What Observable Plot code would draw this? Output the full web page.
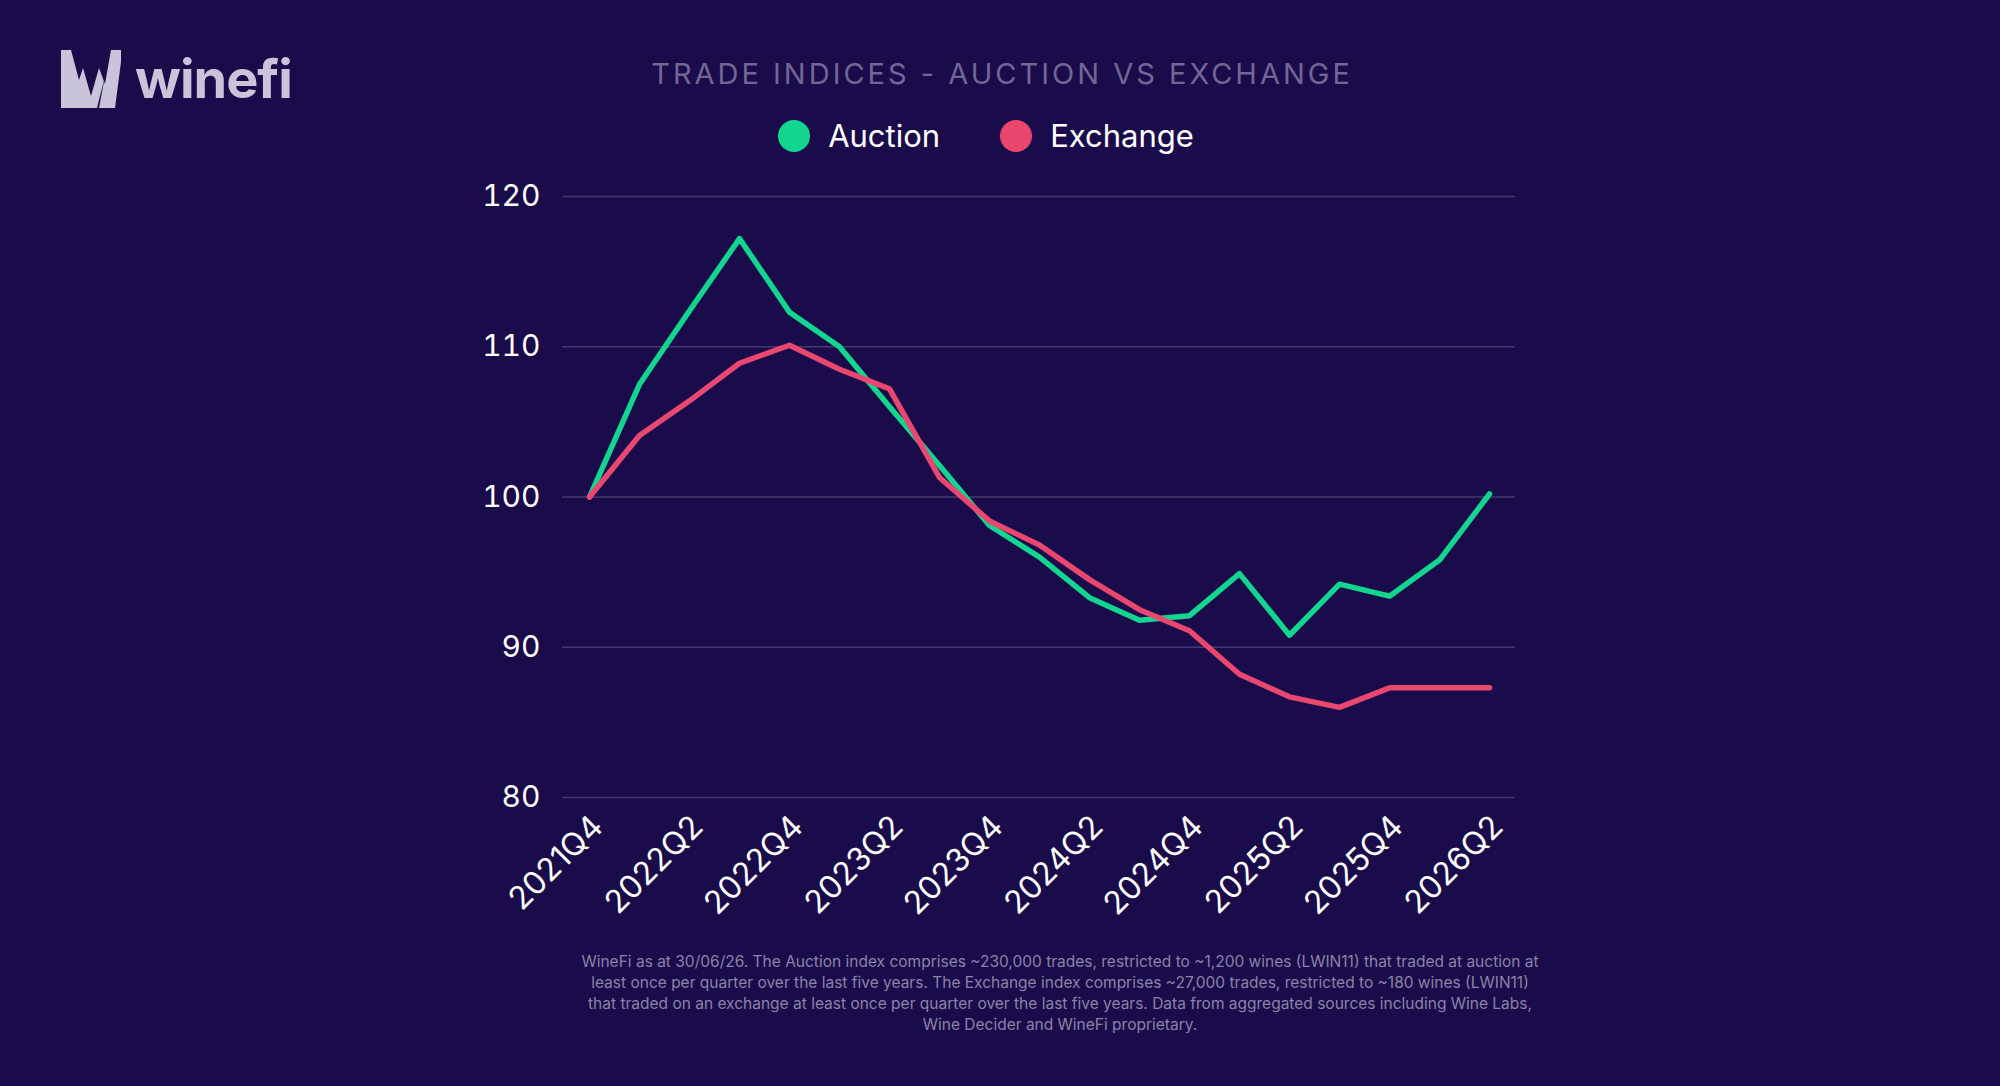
<!DOCTYPE html>
<html><head><meta charset="utf-8">
<script src="https://cdn.jsdelivr.net/npm/d3@7"></script>
<script src="https://cdn.jsdelivr.net/npm/@observablehq/plot@0.6"></script>
<style>
html,body{margin:0;padding:0;background:#1a0c4a;width:2000px;height:1086px;overflow:hidden;font-family:Inter,"Noto Sans",sans-serif;}
#wrap{position:relative;width:2000px;height:1086px;}
.abs{position:absolute;}
#title{left:0;width:2004px;top:56px;text-align:center;color:#716694;font-size:29px;letter-spacing:3px;}
#legend{top:117px;left:-14px;width:2000px;display:flex;justify-content:center;gap:60px;color:#fff;font-size:31px;}
#legend span{display:flex;align-items:center;gap:18px}
#legend i{display:inline-block;width:32px;height:32px;border-radius:50%}
#note{top:951px;left:460px;width:1200px;text-align:center;color:#8b83a8;font-size:15.5px;line-height:21px;white-space:nowrap;}
#logo{left:61px;top:46px;display:flex;align-items:center;gap:14px;color:#c9c4da;font-weight:700;font-size:54px;letter-spacing:-1px}
#chart{left:0;top:0;}
</style></head><body>
<div id="wrap">
<div id="chart" class="abs"></div>
<div id="logo" class="abs"><svg width="60" height="58" viewBox="0 0 60 58"><path d="M0 0H60V12L54 58H38L44 26L36 58H20L12 30L20 58H0Z" fill="#c9c4da"/><path d="M10 0H50L44 34L38 18L30 46L22 18L18 30Z" fill="#1a0c4a"/></svg><span>winefi</span></div>
<div id="title" class="abs">TRADE INDICES - AUCTION VS EXCHANGE</div>
<div id="legend" class="abs"><span><i style="background:#12d58f"></i>Auction</span><span><i style="background:#e9476f"></i>Exchange</span></div>
<div id="note" class="abs">WineFi as at 30/06/26. The Auction index comprises ~230,000 trades, restricted to ~1,200 wines (LWIN11) that traded at auction at<br>least once per quarter over the last five years. The Exchange index comprises ~27,000 trades, restricted to ~180 wines (LWIN11)<br>that traded on an exchange at least once per quarter over the last five years. Data from aggregated sources including Wine Labs,<br>Wine Decider and WineFi proprietary.</div>
</div>
<script>
const quarters = ["2021Q4","2022Q1","2022Q2","2022Q3","2022Q4","2023Q1","2023Q2","2023Q3","2023Q4","2024Q1","2024Q2","2024Q3","2024Q4","2025Q1","2025Q2","2025Q3","2025Q4","2026Q1","2026Q2"];
const auction = [100,107.5,112.4,117.2,112.3,110.0,106.0,102.1,98.1,96.0,93.3,91.8,92.1,94.9,90.8,94.2,93.4,95.8,100.2];
const exchange = [100,104.1,106.4,108.9,110.1,108.5,107.2,101.3,98.4,96.8,94.5,92.5,91.1,88.2,86.7,86.0,87.3,87.3,87.3];
const yTicks = [80,90,100,110,120];
const data = [];
quarters.forEach((q,i)=>{data.push({q,v:auction[i],s:"Auction"});data.push({q,v:exchange[i],s:"Exchange"});});
const labelQs = quarters.filter((q,i)=>i%2===0);
const chart = Plot.plot({
  width:2000,height:1086,
  marginLeft:562,marginRight:485,marginTop:196,marginBottom:289,
  style:{background:"transparent",color:"#fff",fontFamily:"Inter, 'Noto Sans', sans-serif"},
  x:{type:"point",domain:quarters,padding:0.5,label:null},
  y:{domain:[80,120],label:null},
  color:{domain:["Auction","Exchange"],range:["#12d58f","#e9476f"]},
  marks:[
    Plot.ruleY(yTicks,{stroke:"#44396e",strokeWidth:1.5}),
    Plot.axisY(yTicks,{tickSize:0,tickPadding:22,fontSize:30,fill:"#fff",label:null}),
    Plot.axisX(labelQs,{tickSize:0,tickRotate:-45,fontSize:32,fill:"#fff",textAnchor:"end",tickPadding:24,dx:8,label:null}),
    Plot.line(data,{x:"q",y:"v",z:"s",stroke:"s",strokeWidth:5.5,strokeLinejoin:"round",strokeLinecap:"round"})
  ]
});
document.getElementById("chart").appendChild(chart);
</script>
</body></html>
